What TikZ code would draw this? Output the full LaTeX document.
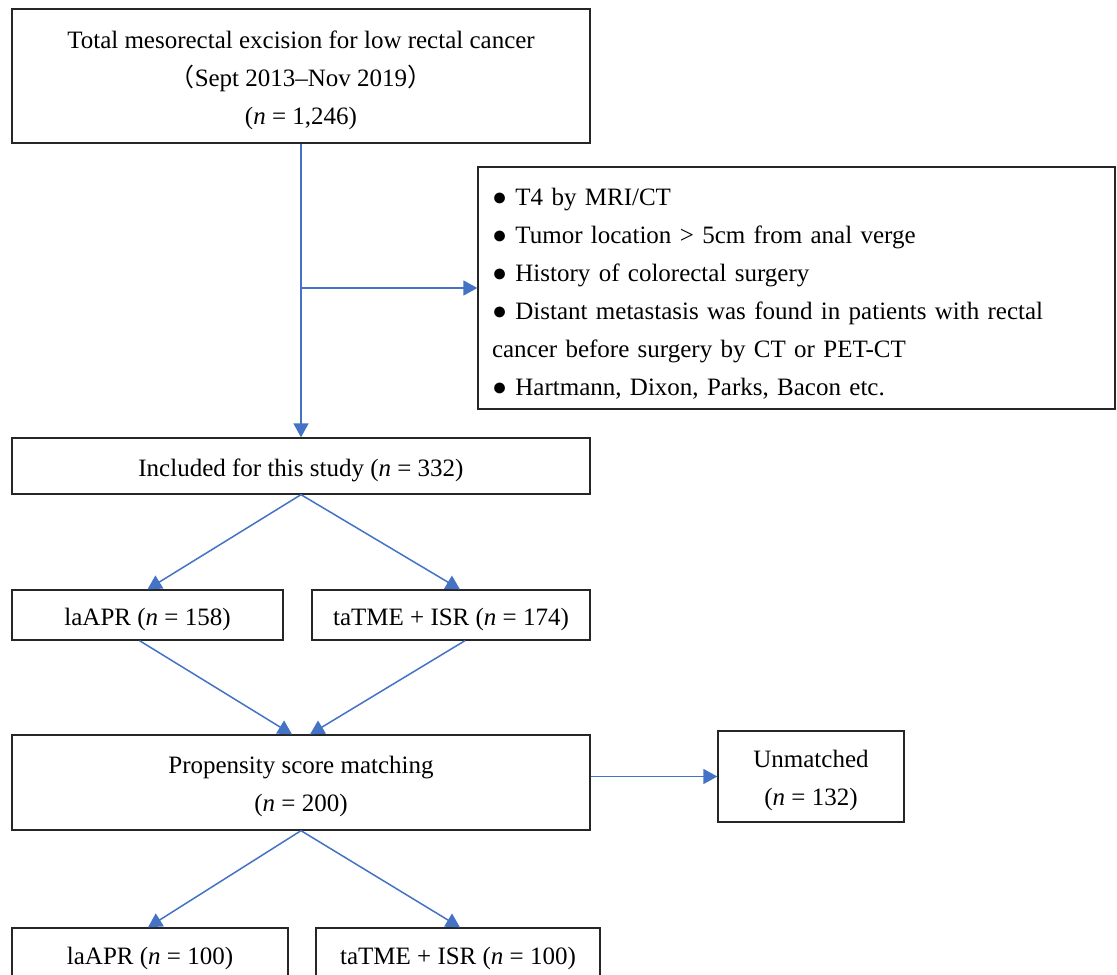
\documentclass[tikz,border=0pt]{standalone}
\usepackage{fontspec}
\setmainfont{Liberation Serif}
\newfontfamily\cjk{Noto Sans CJK SC}
\usetikzlibrary{arrows.meta}
\definecolor{flowblue}{HTML}{4472C4}
\definecolor{boxline}{HTML}{262626}
\newcommand{\topstrut}{\rule{0pt}{26pt}}
\tikzset{
  box/.style={draw=boxline,line width=1.3pt,inner sep=0pt,align=center,
    font=\fontsize{25}{38}\selectfont},
  flow/.style={draw=flowblue,line width=1.5pt,-{Triangle[width=15pt,length=14pt]}}
}
\begin{document}
\begin{tikzpicture}[x=1pt,y=-1pt]
\clip (0,0) rectangle (1117,975);
\fill[white] (0,0) rectangle (1117,975);

\node[box,minimum width=578,minimum height=134] (top) at (301,76)
  {\topstrut Total mesorectal excision for low rectal cancer\\{\cjk （}Sept 2013--Nov 2019{\cjk ）}\\(\textit{n} = 1,246)};

\node[box,minimum width=637,minimum height=242,align=left,text width=609,inner xsep=14pt] (excl) at (796.5,288)
  {\rule{0pt}{28pt}● T4 by MRI/CT\\
   ● Tumor location > 5cm from anal verge\\
   ● History of colorectal surgery\\
   ● Distant metastasis was found in patients with rectal\\
   cancer before surgery by CT or PET-CT\\
   ● Hartmann, Dixon, Parks, Bacon etc.};

\node[box,minimum width=578,minimum height=56] (inc) at (301,466)
  {\topstrut Included for this study (\textit{n} = 332)};

\node[box,minimum width=271,minimum height=50] (lap1) at (147.5,615)
  {\topstrut laAPR (\textit{n} = 158)};
\node[box,minimum width=278,minimum height=50] (ta1) at (451,615)
  {\topstrut taTME + ISR (\textit{n} = 174)};

\node[box,minimum width=578,minimum height=95] (psm) at (301,782.5)
  {\topstrut Propensity score matching\\(\textit{n} = 200)};
\node[box,minimum width=186,minimum height=91] (um) at (811,776.5)
  {\topstrut Unmatched\\(\textit{n} = 132)};

\node[box,minimum width=276,minimum height=60] (lap2) at (150,958)
  {laAPR (\textit{n} = 100)};
\node[box,minimum width=284,minimum height=60] (ta2) at (458,958)
  {taTME + ISR (\textit{n} = 100)};

\draw[flow] (top.south) -- (inc.north);
\draw[flow] (top.south |- excl.west) -- (excl.west);
\draw[flow] (inc.south) -- (lap1.north);
\draw[flow] (inc.south) -- ([xshift=9pt]ta1.north);
\draw[flow] ([xshift=-8pt]lap1.south) -- ([xshift=-9pt]psm.north);
\draw[flow] ([xshift=14pt]ta1.south) -- ([xshift=9pt]psm.north);
\draw[flow] (psm.east |- um.west) -- (um.west);
\draw[flow] (psm.south) -- ([xshift=-2pt]lap2.north);
\draw[flow] (psm.south) -- ([xshift=2pt]ta2.north);
\end{tikzpicture}
\end{document}
